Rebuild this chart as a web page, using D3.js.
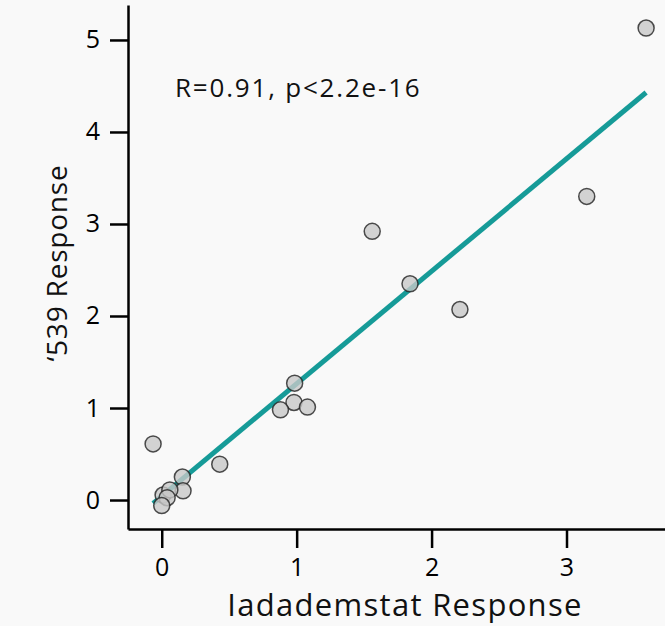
<!DOCTYPE html>
<html>
<head>
<meta charset="utf-8">
<script src="https://cdn.jsdelivr.net/npm/d3@7"></script>
<style>
  body { margin: 0; background: #f9f9f9; }
  svg { display: block; font-family: "Open Sans", Lato, sans-serif; }
</style>
</head>
<body>
<div id="chart"></div>
<script>
// iadademstat response vs '539 response, one point per sample
const iadaResponse = [3.59, 3.15, 2.21, 1.84, 1.56, 0.985, 0.98, 0.88, 1.08, 0.43, -0.064, 0.153, 0.158, 0.01, 0.06, 0.04, 0.0]
const resp539 = [5.13, 3.30, 2.07, 2.35, 2.92, 1.27, 1.06, 0.98, 1.01, 0.39, 0.61, 0.25, 0.10, 0.054, 0.11, 0.025, -0.06]
const xTicks = [0, 1, 2, 3]
const yTicks = [0, 1, 2, 3, 4, 5]
const statLabel = "R=0.91, p<2.2e-16"

drawScatter("#chart")

function drawScatter(id){
    const canvas = {width: 665, height: 626}
    const svg = d3.select(id).append("svg")
        .attr("width", canvas.width).attr("height", canvas.height)

    svg.append("rect").attr("width", canvas.width).attr("height", canvas.height).attr("fill", "#f9f9f9")

    const x = d3.scaleLinear().domain([-0.25, 3.73]).range([128, 665])
    const y = d3.scaleLinear().domain([-0.315, 5.38]).range([529, 5])

    const points = iadaResponse.map((d, j) => ({x: d, y: resp539[j]}))

    // axes
    const xAxis = svg.append("g").attr("transform", `translate(0,${y.range()[0]})`)
        .call(d3.axisBottom(x).tickValues(xTicks).tickSize(19).tickSizeOuter(0).tickPadding(10).tickFormat(d3.format("d")))
    const yAxis = svg.append("g").attr("transform", `translate(${x.range()[0]},0)`)
        .call(d3.axisLeft(y).tickValues(yTicks).tickSize(18).tickSizeOuter(0).tickPadding(10).tickFormat(d3.format("d")))

    for (const ax of [xAxis, yAxis]) {
        ax.select(".domain").attr("stroke", "#000").attr("stroke-width", 2.5)
        ax.selectAll(".tick line").attr("stroke", "#000").attr("stroke-width", 2.5)
        ax.selectAll(".tick text").attr("fill", "#000").attr("font-size", "25px").attr("font-family", "'Open Sans', sans-serif")
    }

    // least squares fit
    const mx = d3.mean(points, d => d.x), my = d3.mean(points, d => d.y)
    const slope = d3.sum(points, d => (d.x - mx) * (d.y - my)) / d3.sum(points, d => (d.x - mx) ** 2)
    const icpt = my - slope * mx
    const ext = d3.extent(points, d => d.x)

    svg.append("line")
        .attr("x1", x(ext[0])).attr("y1", y(icpt + slope * ext[0]))
        .attr("x2", x(ext[1])).attr("y2", y(icpt + slope * ext[1]))
        .attr("stroke", "#169b98").attr("stroke-width", 5)

    svg.selectAll(".pt").data(points).enter().append("circle").attr("class", "pt")
        .attr("cx", d => x(d.x)).attr("cy", d => y(d.y)).attr("r", 8)
        .attr("fill", "#c8c8c8").attr("fill-opacity", 0.8)
        .attr("stroke", "#222").attr("stroke-opacity", 0.8).attr("stroke-width", 1.5)

    svg.append("text").attr("x", 175).attr("y", 97).attr("font-size", "26px").attr("letter-spacing", "1.8px")
        .attr("fill", "#111").text(statLabel)

    svg.append("text").attr("x", 405).attr("y", 616).attr("text-anchor", "middle")
        .attr("font-size", "31px").attr("letter-spacing", "1.3px").attr("fill", "#111").text("Iadademstat Response")

    svg.append("text").attr("transform", "translate(67,263) rotate(-90)").attr("text-anchor", "middle")
        .attr("font-size", "28px").attr("letter-spacing", "0.8px").attr("fill", "#111").text("\u2018539 Response")
}
</script>
</body>
</html>
